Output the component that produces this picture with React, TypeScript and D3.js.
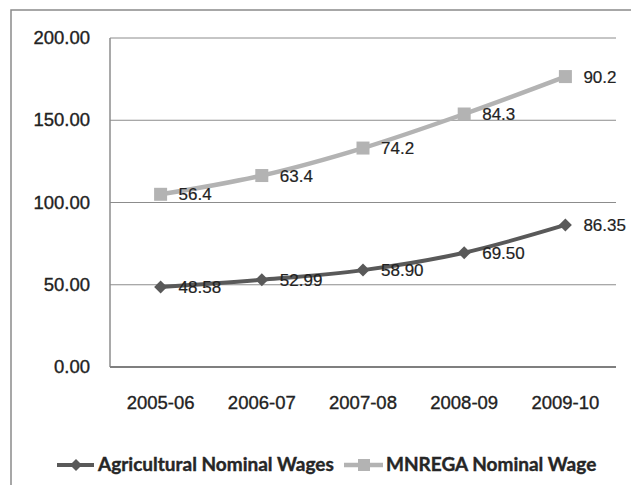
import React from "react";
import * as d3 from "d3";

const categories = ["2005-06", "2006-07", "2007-08", "2008-09", "2009-10"];
const agriWages = [48.58, 52.99, 58.9, 69.5, 86.35];
const agriLabels = ["48.58", "52.99", "58.90", "69.50", "86.35"];
const mnregaWages = [56.4, 63.4, 74.2, 84.3, 90.2];
const mnregaLabels = ["56.4", "63.4", "74.2", "84.3", "90.2"];
const yTicks = [0, 50, 100, 150, 200];
const seriesNames = ["Agricultural Nominal Wages", "MNREGA Nominal Wage"];

const W = 631;
const H = 485;
const plot = { left: 110, right: 616, top: 38, bottom: 367 };
const sans = "'Liberation Sans', Arial, sans-serif";

export default function App() {
  const x = d3.scaleBand<string>().domain(categories).range([plot.left, plot.right]);
  const y = d3.scaleLinear().domain([0, 200]).range([plot.bottom, plot.top]);
  const cx = (c: string) => (x(c) as number) + x.bandwidth() / 2;

  // Stacked line: second series sits on top of first
  const stacked = mnregaWages.map((v, i) => v + agriWages[i]);

  const line = d3
    .line<number>()
    .x((_, i) => cx(categories[i]))
    .y((d) => y(d))
    .curve(d3.curveCardinal.tension(0));

  const agriColor = "#595959";
  const mnColor = "#b3b3b3";
  const textColor = "#222";
  const diamond = (px: number, py: number, r: number) =>
    `M${px},${py - r}L${px + r},${py}L${px},${py + r}L${px - r},${py}Z`;

  const axisText = { fontFamily: sans, fontSize: 18.5, fill: textColor, stroke: textColor, strokeWidth: 0.35 };
  const dataText = { fontFamily: sans, fontSize: 17, fill: textColor, stroke: textColor, strokeWidth: 0.2 };
  const legendText = { fontFamily: "Lato, sans-serif", fontWeight: "bold" as const, fontSize: 19, fill: "#262626", stroke: "#262626", strokeWidth: 0.4 };

  return (
    <svg
      width={W}
      height={H}
      style={{ position: "absolute", left: 0, top: 0, background: "#fff" }}
    >
      <rect x={11} y={10} width={700} height={600} fill="#fff" stroke="#8a8a8a" strokeWidth={1.5} />

      {yTicks.filter((t) => t > 0).map((t) => (
        <line key={t} x1={plot.left} x2={plot.right} y1={y(t)} y2={y(t)} stroke="#8c8c8c" strokeWidth={1} />
      ))}
      <line x1={plot.left} x2={plot.left} y1={plot.top} y2={plot.bottom} stroke="#8c8c8c" strokeWidth={1.5} />
      <line x1={plot.left} x2={plot.right} y1={plot.bottom} y2={plot.bottom} stroke="#7f7f7f" strokeWidth={2} />

      {yTicks.map((t) => (
        <text key={t} x={90} y={y(t) + 6} textAnchor="end" {...axisText}>
          {t.toFixed(2)}
        </text>
      ))}

      {categories.map((c) => (
        <text key={c} x={cx(c)} y={409} textAnchor="middle" {...axisText}>
          {c}
        </text>
      ))}

      <path d={line(stacked) || ""} fill="none" stroke={mnColor} strokeWidth={4.5} />
      {stacked.map((v, i) => (
        <rect key={i} x={cx(categories[i]) - 6.5} y={y(v) - 6.5} width={13} height={13} fill={mnColor} />
      ))}

      <path d={line(agriWages) || ""} fill="none" stroke={agriColor} strokeWidth={4} />
      {agriWages.map((v, i) => (
        <path key={i} d={diamond(cx(categories[i]), y(v), 6.5)} fill={agriColor} />
      ))}

      {stacked.map((v, i) => (
        <text key={i} x={cx(categories[i]) + 18} y={y(v) + 6} {...dataText}>
          {mnregaLabels[i]}
        </text>
      ))}
      {agriWages.map((v, i) => (
        <text key={i} x={cx(categories[i]) + 18} y={y(v) + 6} {...dataText}>
          {agriLabels[i]}
        </text>
      ))}

      {/* Legend */}
      <line x1={57} x2={94} y1={465} y2={465} stroke={agriColor} strokeWidth={4} />
      <path d={diamond(76, 465, 6)} fill={agriColor} />
      <text x={98} y={471} {...legendText}>
        {seriesNames[0]}
      </text>
      <line x1={344} x2={383} y1={465} y2={465} stroke={mnColor} strokeWidth={4.5} />
      <rect x={358} y={459} width={12} height={12} fill={mnColor} />
      <text x={386} y={471} {...legendText}>
        {seriesNames[1]}
      </text>
    </svg>
  );
}
